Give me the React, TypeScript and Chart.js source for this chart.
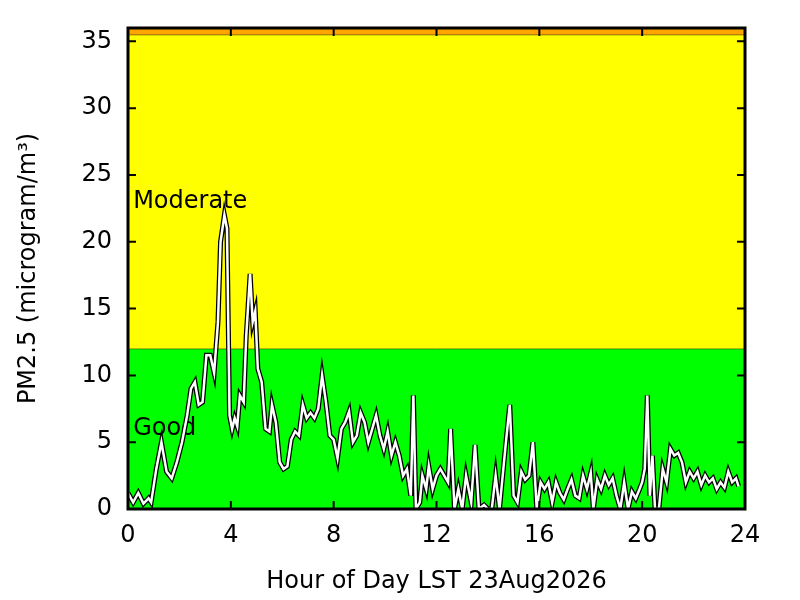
import React, { useEffect, useRef } from "react";
import { Chart, registerables } from "chart.js";
Chart.register(...registerables);

const hours = [0,0.2,0.4,0.6,0.8,0.9,1.1,1.3,1.5,1.7,1.9,2.1,2.3,2.45,2.6,2.75,2.9,3.05,3.2,3.35,3.5,3.6,3.75,3.85,3.95,4.05,4.15,4.25,4.35,4.5,4.6,4.75,4.85,4.95,5.05,5.2,5.35,5.5,5.6,5.75,5.9,6.05,6.2,6.35,6.5,6.65,6.8,6.95,7.1,7.25,7.4,7.55,7.7,7.85,8.0,8.15,8.3,8.45,8.6,8.75,8.9,9.05,9.2,9.35,9.5,9.65,9.8,9.95,10.1,10.25,10.4,10.55,10.7,10.85,11.0,11.1,11.2,11.35,11.45,11.6,11.7,11.85,12.0,12.15,12.3,12.45,12.55,12.7,12.85,13.0,13.15,13.35,13.5,13.65,13.85,14.0,14.15,14.3,14.45,14.7,14.85,15.0,15.15,15.3,15.45,15.6,15.75,15.9,16.05,16.2,16.35,16.5,16.65,16.8,16.95,17.1,17.25,17.4,17.55,17.7,17.85,18.0,18.1,18.25,18.4,18.55,18.7,18.85,19.0,19.15,19.3,19.45,19.6,19.75,19.9,20.0,20.1,20.2,20.3,20.4,20.5,20.65,20.8,20.95,21.1,21.25,21.4,21.55,21.7,21.85,22.0,22.15,22.3,22.45,22.6,22.75,22.9,23.05,23.2,23.35,23.5,23.65,23.75];
const pm25 = [1.2,0.5,1.2,0.4,0.8,0.5,3,5,2.8,2.3,3.5,5,7,9,9.5,7.8,8,11.5,11.5,10.2,14,20,22,21,7,6,6.8,6.2,8.5,8,13,17.6,14,14.8,10.5,9.5,6,5.8,7.8,6.5,3.5,3,3.2,5.2,5.8,5.5,7.8,6.8,7.2,6.8,7.5,10,8,5.5,5.2,3.8,6,6.5,7.3,5,5.5,7.2,6.5,5,6,7,5.5,4.5,5.8,4,5,4,2.5,3,1,8.5,0,0.5,2.5,1.5,3.2,1.5,2.5,3,2.5,2,6,0,1.5,0,2.5,0.5,4.8,0,0.3,0,0,2.5,0,5,7.8,1,0.5,2.8,2.2,2.5,5,0,2,1.5,2,0.5,2,1.2,0.7,1.5,2.2,1,0.8,2.5,1.5,2.7,0,2.2,1.5,2.5,1.8,2.3,1,0,2,0,1.3,0.8,1.5,2,3,8.5,1,4,0,0,3,2,4.5,4,4.2,3.5,2,2.8,2.3,2.8,1.8,2.5,2,2.3,1.5,2,1.6,2.8,2,2.3,1.7];
const xTicks = [0,4,8,12,16,20,24];
const yTicks = [0,5,10,15,20,25,30,35];
const bands = [
  { from: 0, to: 12, color: "#00ff00", label: "Good", labelY: 6 },
  { from: 12, to: 35.5, color: "#ffff00", label: "Moderate", labelY: 23 },
  { from: 35.5, to: 36, color: "#ffa500", label: "", labelY: 0 },
];

const FONT = "'DejaVu Sans', sans-serif";

export default function App() {
  const ref = useRef<HTMLCanvasElement>(null);
  useEffect(() => {
    const pts = hours.map((h, i) => ({ x: h, y: pm25[i] }));
    const bg = {
      id: "bg",
      beforeDatasetsDraw(c: any) {
        const { ctx, chartArea: a, scales } = c;
        const xs = scales.x, ys = scales.y;
        ctx.save();
        for (const b of bands) {
          const y1 = ys.getPixelForValue(b.to), y0 = ys.getPixelForValue(b.from);
          ctx.fillStyle = b.color;
          ctx.fillRect(a.left, y1, a.right - a.left, y0 - y1);
          ctx.strokeStyle = "#000"; ctx.lineWidth = 1;
          ctx.beginPath(); ctx.moveTo(a.left, y1); ctx.lineTo(a.right, y1); ctx.stroke();
        }
        ctx.fillStyle = "#000";
        ctx.font = `24px ${FONT}`;
        ctx.textBaseline = "middle";
        for (const b of bands) if (b.label) ctx.fillText(b.label, xs.getPixelForValue(0.2), ys.getPixelForValue(b.labelY));
        ctx.restore();
      },
      afterDraw(c: any) {
        const { ctx, chartArea: a, scales } = c;
        ctx.save();
        ctx.strokeStyle = "#000"; ctx.lineWidth = 3;
        ctx.strokeRect(a.left, a.top, a.right - a.left, a.bottom - a.top);
        ctx.lineWidth = 2;
        ctx.beginPath();
        for (const t of xTicks) {
          const x = scales.x.getPixelForValue(t);
          ctx.moveTo(x, a.bottom); ctx.lineTo(x, a.bottom - 8);
          ctx.moveTo(x, a.top); ctx.lineTo(x, a.top + 8);
        }
        for (const t of yTicks) {
          const y = scales.y.getPixelForValue(t);
          ctx.moveTo(a.left, y); ctx.lineTo(a.left + 8, y);
          ctx.moveTo(a.right, y); ctx.lineTo(a.right - 8, y);
        }
        ctx.stroke();
        ctx.restore();
      },
    };
    const chart = new Chart(ref.current!, {
      type: "line",
      data: {
        datasets: [
          { data: pts, borderColor: "#ffffff", borderWidth: 2.5, pointRadius: 0, tension: 0, order: 0 },
          { data: pts, borderColor: "#000000", borderWidth: 5, pointRadius: 0, tension: 0, order: 1 },
        ],
      },
      options: {
        animation: false,
        responsive: false,
        layout: { padding: { left: 10, right: 55, top: 28, bottom: 0 } },
        plugins: { legend: { display: false }, tooltip: { enabled: false } },
        scales: {
          x: {
            type: "linear", min: 0, max: 24,
            afterBuildTicks: (s: any) => { s.ticks = xTicks.map((v) => ({ value: v })); },
            afterFit: (s: any) => { s.height = 91; },
            grid: { display: false }, border: { display: false },
            ticks: { color: "#000", font: { family: FONT, size: 24 }, padding: 4, maxRotation: 0 },
            title: { display: true, text: "Hour of Day LST 23Aug2026", color: "#000", font: { family: FONT, size: 24 }, padding: { top: 4 } },
          },
          y: {
            min: 0, max: 36,
            afterBuildTicks: (s: any) => { s.ticks = yTicks.map((v) => ({ value: v })); },
            afterFit: (s: any) => { s.width = 118; },
            grid: { display: false }, border: { display: false },
            ticks: { color: "#000", font: { family: FONT, size: 24 }, padding: 8 },
            title: { display: true, text: "PM2.5 (microgram/m³)", color: "#000", font: { family: FONT, size: 24 }, padding: { bottom: 4 } },
          },
        },
      },
      plugins: [bg],
    });
    return () => chart.destroy();
  }, []);
  return (
    <div style={{ position: "fixed", left: 0, top: 0, width: 800, height: 600, background: "#fff" }}>
      <canvas ref={ref} width={800} height={600} style={{ width: 800, height: 600 }} />
    </div>
  );
}
